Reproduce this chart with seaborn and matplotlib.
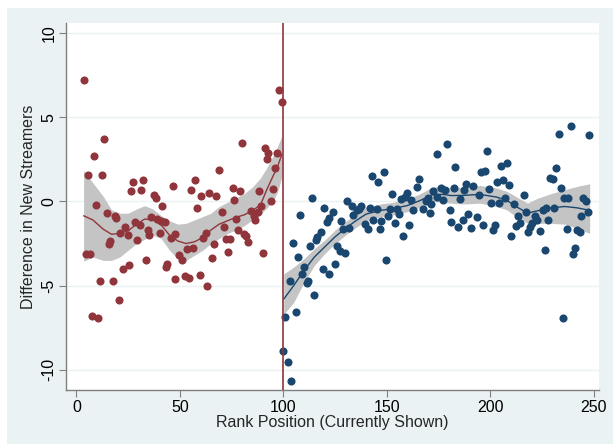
import matplotlib
matplotlib.use("Agg")
import matplotlib.pyplot as plt
from matplotlib.patches import Rectangle
import seaborn as sns
import pandas as pd

# --- ranks below the cutoff (not shown) ---
red_rank = [3.5, 5.6, 4.5, 6.8, 7.4, 8.5, 9.7, 10.6, 11.5, 12.6, 13.5, 14.8, 15.6, 16.4,
            17.6, 18.5, 19.3, 20.6, 21.3, 22.6, 23.5, 24.8, 25.5, 26.6, 27.4, 28.5, 29.3,
            30.8, 31.3, 32.4, 33.5, 34.5, 35.1, 36.1, 37.7, 38.7, 38.9, 40.3, 40.9, 41.6,
            42.9, 43.2, 44.0, 45.5, 46.5, 47.5, 47.9, 49.4, 51.0, 52.3, 53.5, 54.6, 55.4,
            56.3, 57.3, 58.4, 59.6, 60.3, 61.3, 62.5, 63.3, 64.2, 65.3, 66.6, 67.6, 69.1,
            70.3, 71.4, 72.4, 73.2, 74.1, 75.5, 76.1, 77.1, 78.3, 79.3, 80.0, 80.8, 81.9,
            82.9, 84.6, 86.0, 86.4, 87.8, 88.0, 89.2, 90.2, 91.2, 92.0, 92.5, 94.1, 95.0,
            95.9, 97.0, 98.0, 99.2]
red_diff = [7.2, 1.6, -3.1, -3.1, -6.8, 2.7, -0.2, -6.95, -4.7, 1.55, 3.7, -0.7, -2.5, -2.35,
            -4.7, -0.85, -1.0, -5.85, -1.9, -4.0, -1.5, -2.0, -3.8, 0.6, 1.15, -1.2, -2.3,
            -1.4, 0.7, 1.3, -3.5, -1.7, -2.0, -0.95, 0.4, 0.2, -1.05, -1.9, -1.15, -0.3,
            -1.25, -3.9, -3.7, -2.15, 0.9, -4.6, -1.96, -3.2, -3.45, -4.45, -2.85, -4.55, 0.7,
            -2.75, 1.3, -0.4, -4.35, 0.3, -2.15, -1.9, -5.05, 0.5, -3.35, -2.5, 0.3, 1.85,
            -0.62, -1.52, -2.24, -3.0, -2.24, 0.77, 0.08, -1.07, -1.72, 0.62, 3.5, -1.95, -2.05,
            -2.38, -0.55, -0.85, -1.1, -0.6, 0.6, -0.3, -3.05, 3.15, 2.5, 2.85, 0.0, 0.72,
            2.0, 2.9, 6.6, 5.9]

# --- ranks at or above the cutoff (shown) ---
blue_rank = [99.9, 100.9, 102.2, 103.2, 103.8, 104.8, 105.9, 107.2, 108.0, 109.0, 109.9,
             111.2, 111.9, 112.8, 114.0, 114.9, 115.6, 116.4, 118.0, 119.1, 119.6, 120.9,
             122.0, 122.3, 123.8, 124.9, 125.7, 127.2, 127.7, 128.6, 129.7, 130.9, 131.7,
             133.0, 133.8, 135.4, 136.5, 137.7, 139.3, 140.9, 141.8, 142.8, 143.5, 145.1,
             145.7, 146.7, 147.3, 148.6, 149.7, 150.5, 151.5, 152.6, 153.8, 154.7, 155.7,
             156.7, 157.6, 158.6, 159.9, 160.5, 161.5, 162.8, 164.7, 165.7, 167.3, 168.9,
             169.9, 170.8, 171.5, 172.5, 174.4, 174.4, 176.0, 177.3, 178.3, 179.3, 180.5,
             181.2, 182.4, 183.1, 184.4, 185.3, 186.7, 187.3, 188.2, 189.2, 190.5, 191.8,
             193.4, 194.7, 195.4, 196.3, 197.3, 198.6, 199.4, 200.5, 201.2, 202.1, 203.1,
             204.2, 205.0, 206.3, 206.9, 208.2, 209.2, 210.2, 211.2, 212.2, 213.4, 214.4,
             216.3, 217.3, 218.2, 219.2, 220.2, 221.5, 222.5, 224.0, 225.3, 226.3, 227.0,
             228.0, 228.9, 230.2, 230.8, 231.8, 233.1, 234.0, 235.0, 235.6, 236.9, 237.6,
             238.9, 239.8, 240.8, 242.1, 243.1, 244.0, 245.0, 246.0, 247.3, 247.9]
blue_diff = [-8.9, -6.86, -9.54, -4.73, -10.66, -2.47, -6.59, -3.3, -0.83, -4.33, -3.9,
             -4.85, -4.73, -2.67, 0.22, -5.56, -2.31, -2.12, -1.82, -4.0, -0.4, -1.25,
             -4.29, -1.01, -0.65, -3.7, -2.67, -2.95, -1.17, -1.62, -3.07, 0.02, -1.56,
             -0.26, -0.81, -0.53, -0.43, -0.3, -1.32, -1.62, -0.38, 1.54, -1.13, -0.42,
             1.15, -1.64, -1.17, 1.72, -3.46, -0.89, -0.46, 0.45, -1.29, -0.42, -0.77,
             0.14, -2.04, 0.26, 0.53, -1.42, 0.1, -0.53, 0.85, 1.36, -0.46, 0.02,
             0.22, -0.69, -0.14, 0.65, 0.26, 2.83, 0.8, 0.06, 0.7, 3.42, -0.49,
             -1.2, 0.81, 2.04, -1.52, 0.16, -1.13, 0.69, 1.01, -0.73, -1.56, 0.93,
             -0.93, 0.36, 1.74, -1.41, 1.82, 2.99, 0.73, -0.1, -1.68, -1.37, 1.17,
             -0.1, 2.08, 1.29, 0.22, 2.31, 0.97, -2.08, -0.18, -1.44, -0.89, -1.29,
             0.4, -0.65, -1.82, -1.52, -1.29, -0.89, -1.13, -1.78, -0.53, -2.91, -0.38,
             -1.13, 1.41, 1.36, -0.38, 2.0, 3.98, 0.81, -6.9, 0.22, -1.64, 0.22,
             4.49, -3.15, -2.79, -1.72, -1.84, -0.85, 0.22, 0.02, -0.61, 3.94]

# --- local polynomial fits with 95% bands ---
red_fit_x = [3.5, 8, 13, 17, 21, 25, 29, 33, 37, 41, 45, 49, 53, 57, 61, 65, 69, 73, 77,
             81, 85, 89, 92, 95, 97, 99.3]
red_fit_y = [-0.85, -1.1, -1.65, -1.95, -1.9, -1.75, -1.35, -1.05, -1.08, -1.4, -2.0, -2.35,
             -2.5, -2.4, -2.15, -1.7, -1.35, -1.15, -0.95, -0.8, -0.55, -0.2, 0.7, 1.5,
             2.0, 2.8]
red_fit_hi = [1.85, 1.1, 0.3, -0.5, -0.7, -0.7, -0.45, -0.25, -0.45, -0.85, -1.15, -1.35,
              -1.3, -1.1, -0.9, -0.7, -0.3, -0.05, 0.2, 0.45, 0.85, 1.4, 2.0, 2.7, 3.2, 3.9]
red_fit_lo = [-3.55, -3.3, -3.5, -3.5, -3.3, -2.9, -2.5, -2.25, -2.0, -2.2, -2.9, -3.4,
              -3.5, -3.2, -2.9, -2.5, -2.2, -1.9, -1.7, -1.45, -1.1, -0.75, -0.4, 0.05,
              0.5, 1.45]

blue_fit_x = [100.2, 105, 110, 115, 120, 125, 130, 135, 140, 147, 153, 160, 166, 172, 177,
              181, 187, 195, 203, 208, 213, 218, 223, 229, 236, 242, 248]
blue_fit_y = [-5.8, -5.0, -4.1, -3.3, -2.7, -2.1, -1.6, -1.15, -0.75, -0.53, -0.43, -0.24,
              0.05, 0.4, 0.42, 0.35, 0.36, 0.42, 0.26, 0.06, -0.34, -0.69, -0.55, -0.38,
              -0.3, -0.38, -0.53]
blue_fit_hi = [-4.3, -3.9, -3.4, -2.8, -2.3, -1.7, -1.2, -0.75, -0.35, -0.15, -0.05, 0.15,
               0.45, 0.85, 0.9, 0.8, 0.85, 0.95, 0.8, 0.6, 0.25, -0.1, 0.2, 0.45, 0.7,
               0.9, 1.05]
blue_fit_lo = [-6.7, -6.0, -4.8, -3.8, -3.1, -2.5, -2.0, -1.55, -1.15, -0.9, -0.8, -0.6,
               -0.35, 0.0, -0.05, -0.1, -0.15, -0.1, -0.3, -0.5, -0.95, -1.3, -1.3, -1.3,
               -1.35, -1.6, -1.9]

x_ticks = [0, 50, 100, 150, 200, 250]
y_ticks = [-10, -5, 0, 5, 10]
cutoff = 100

RED = "#90353B"
BLUE = "#1A476F"
BAND = "#C4C4C4"
BG = "#EAF2F3"
FS = 11.5

sns.set_theme(style="white")
plt.rcParams["font.family"] = ["Liberation Sans", "DejaVu Sans"]

fig = plt.figure(figsize=(6.16, 4.46), dpi=100, facecolor="white")
# light graph-region backdrop behind the plot
backdrop = Rectangle((7 / 616, 2 / 446), 606 / 616, 436 / 446,
                     transform=fig.transFigure, facecolor=BG,
                     edgecolor="none", zorder=-10)
fig.add_artist(backdrop)
ax = fig.add_axes([66 / 616, 1 - 390 / 446, (599 - 66) / 616, (390 - 23) / 446])
ax.set_zorder(1)
ax.set_facecolor("white")

red_df = pd.DataFrame({"rank": red_rank, "diff": red_diff})
blue_df = pd.DataFrame({"rank": blue_rank, "diff": blue_diff})
red_fit = pd.DataFrame({"rank": red_fit_x, "fit": red_fit_y})
blue_fit = pd.DataFrame({"rank": blue_fit_x, "fit": blue_fit_y})

for y in y_ticks:
    ax.axhline(y, color=BG, lw=1.0, zorder=0)

ax.fill_between(red_fit_x, red_fit_lo, red_fit_hi, color=BAND, lw=0, zorder=1)
ax.fill_between(blue_fit_x, blue_fit_lo, blue_fit_hi, color=BAND, lw=0, zorder=1)

sns.scatterplot(data=red_df, x="rank", y="diff", color=RED, s=34, linewidth=0,
                ax=ax, zorder=2)
sns.scatterplot(data=blue_df, x="rank", y="diff", color=BLUE, s=34, linewidth=0,
                ax=ax, zorder=2)
sns.lineplot(data=red_fit, x="rank", y="fit", color=RED, lw=1.0, ax=ax, zorder=3)
sns.lineplot(data=blue_fit, x="rank", y="fit", color=BLUE, lw=1.0, ax=ax, zorder=3)

ax.axvline(cutoff, color=RED, lw=1.2, zorder=4)

ax.set_xlim(-5, 252.5)
ax.set_ylim(-11.2, 10.6)
ax.set_xticks(x_ticks)
ax.set_yticks(y_ticks)
ax.set_xticklabels([str(t) for t in x_ticks], fontsize=FS)
ax.set_yticklabels([str(t) for t in y_ticks], fontsize=FS, rotation=90, va="center")
ax.set_xlabel("Rank Position (Currently Shown)", fontsize=FS, labelpad=0)
ax.set_ylabel("Difference in New Streamers", fontsize=FS, labelpad=4)

for side in ["top", "right"]:
    ax.spines[side].set_visible(False)
for side in ["left", "bottom"]:
    ax.spines[side].set_color("#7F7F7F")
    ax.spines[side].set_linewidth(1.0)
ax.tick_params(axis="both", which="major", direction="out", length=5, width=0.8,
               color="#7F7F7F", labelcolor="black", pad=2,
               bottom=True, left=True)

fig.savefig("out.png", dpi=100, facecolor="white")
